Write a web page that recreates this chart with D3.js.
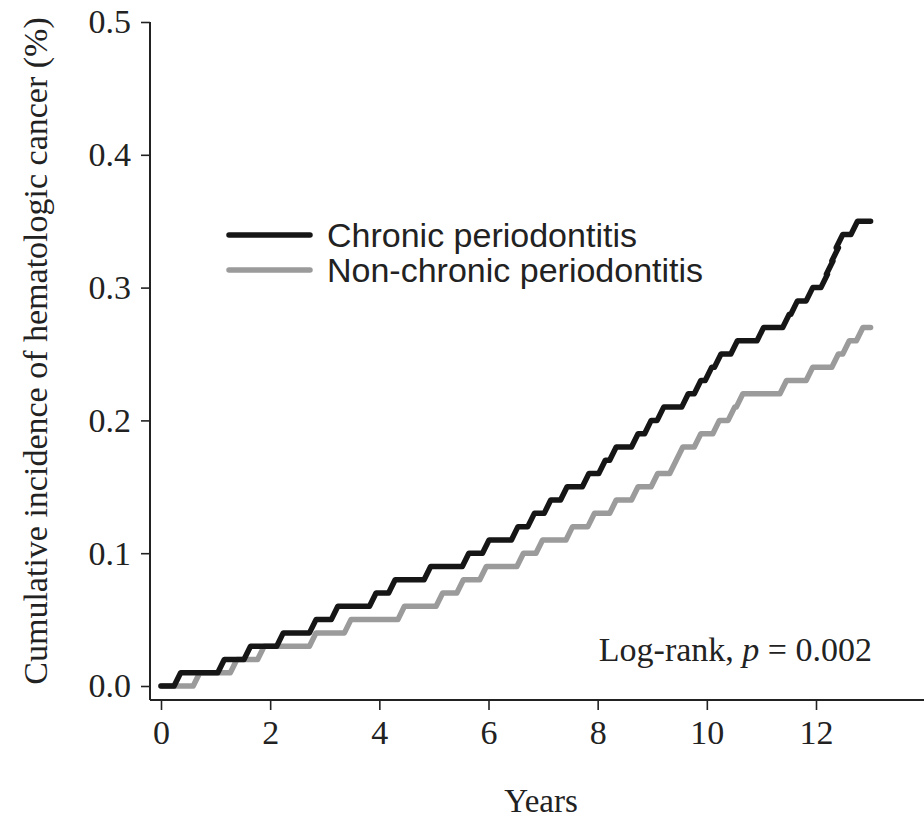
<!DOCTYPE html>
<html>
<head>
<meta charset="utf-8">
<script src="https://cdn.jsdelivr.net/npm/d3@7"></script>
<style>
  body { margin: 0; background: #fff; }
  svg { display: block; }
  .tick text { font-family: "Liberation Serif", "Times New Roman", serif; font-size: 34px; fill: #222; }
  .tick line { stroke: #222; stroke-width: 1.6; }
</style>
</head>
<body>
<div id="plot"></div>
<script>
// step times (years) and cumulative incidence (%)
var chronicTimes = [0, 0.3, 1.1, 1.58, 2.18, 2.78, 3.18, 3.88, 4.23, 4.88, 5.58, 5.95, 6.48, 6.78, 7.08, 7.38, 7.78, 8.08, 8.28, 8.68, 8.92, 9.15, 9.6, 9.83, 10.03, 10.2, 10.5, 10.98, 11.45, 11.6, 11.88, 12.15, 12.25, 12.35, 12.43, 12.7]
var chronicValues = [0, 0.01, 0.02, 0.03, 0.04, 0.05, 0.06, 0.07, 0.08, 0.09, 0.10, 0.11, 0.12, 0.13, 0.14, 0.15, 0.16, 0.17, 0.18, 0.19, 0.20, 0.21, 0.22, 0.23, 0.24, 0.25, 0.26, 0.27, 0.28, 0.29, 0.30, 0.31, 0.32, 0.33, 0.34, 0.35]
var nonChronicTimes = [0, 0.65, 1.33, 1.83, 2.78, 3.42, 4.4, 5.1, 5.48, 5.9, 6.58, 6.93, 7.48, 7.88, 8.28, 8.68, 9.04, 9.38, 9.5, 9.83, 10.17, 10.45, 10.6, 11.4, 11.88, 12.35, 12.55, 12.8]
var nonChronicValues = [0, 0.01, 0.02, 0.03, 0.04, 0.05, 0.06, 0.07, 0.08, 0.09, 0.10, 0.11, 0.12, 0.13, 0.14, 0.15, 0.16, 0.17, 0.18, 0.19, 0.20, 0.21, 0.22, 0.23, 0.24, 0.25, 0.26, 0.27]
var followUpEnd = 13
var xTicks = [0, 2, 4, 6, 8, 10, 12]
var yTicks = [0, 0.1, 0.2, 0.3, 0.4, 0.5]
var seriesNames = ["Chronic periodontitis", "Non-chronic periodontitis"]
var seriesColors = ["#161616", "#9b9b9b"]

var width = 924, height = 821

var svg = d3.select("#plot").append("svg")
	.attr("width", width)
	.attr("height", height)

var x = d3.scaleLinear().domain([0, 12]).range([161, 816])
var y = d3.scaleLinear().domain([0, 0.5]).range([686, 22])

// axes lines (L-shaped frame)
svg.append("line")
	.attr("x1", 150).attr("x2", 150)
	.attr("y1", y(0.5)).attr("y2", 700)
	.style("stroke", "#222").style("stroke-width", 2)
svg.append("line")
	.attr("x1", 150).attr("x2", width)
	.attr("y1", 700).attr("y2", 700)
	.style("stroke", "#222").style("stroke-width", 2)

var yAxis = svg.append("g")
	.attr("transform", "translate(150,0)")
	.call(d3.axisLeft(y).tickValues(yTicks).tickSize(9).tickPadding(10).tickFormat(d3.format(".1f")))
yAxis.select(".domain").remove()

var xAxis = svg.append("g")
	.attr("transform", "translate(0,700)")
	.call(d3.axisBottom(x).tickValues(xTicks).tickSize(10).tickPadding(10).tickFormat(d3.format("d")))
xAxis.select(".domain").remove()

// build step path with short slanted risers like the original
function stepPoints(times, values, end){
	var rise = 0.06
	var pts = [[times[0], values[0]]]
	for (var i = 1; i < times.length; i++){
		pts.push([times[i] - rise, values[i-1]])
		pts.push([times[i] + rise, values[i]])
	}
	pts.push([end, values[values.length-1]])
	return pts
}

var line = d3.line()
	.x(function(d){return x(d[0]);})
	.y(function(d){return y(d[1]);})

svg.append("path")
	.datum(stepPoints(nonChronicTimes, nonChronicValues, followUpEnd))
	.attr("d", line)
	.style("fill", "none")
	.style("stroke", seriesColors[1])
	.style("stroke-width", 5.5)
	.style("stroke-linejoin", "round")
	.style("stroke-linecap", "round")

svg.append("path")
	.datum(stepPoints(chronicTimes, chronicValues, followUpEnd))
	.attr("d", line)
	.style("fill", "none")
	.style("stroke", seriesColors[0])
	.style("stroke-width", 5.5)
	.style("stroke-linejoin", "round")
	.style("stroke-linecap", "round")

// legend
var legend = svg.selectAll(".legend").data(seriesNames).enter().append("g")
	.attr("class", "legend")
	.attr("transform", function(d, i){return "translate(0," + (235 + i * 35) + ")";})
legend.append("line")
	.attr("x1", 229).attr("x2", 310)
	.attr("y1", 0).attr("y2", 0)
	.style("stroke", function(d, i){return seriesColors[i];})
	.style("stroke-width", 5.5)
	.style("stroke-linecap", "round")
legend.append("text")
	.attr("x", 327).attr("y", 12)
	.style("font-family", "'Liberation Sans', Arial, sans-serif")
	.style("font-size", "34px")
	.style("fill", "#222")
	.text(function(d){return d;})

// annotation
var note = svg.append("text")
	.attr("x", 872).attr("y", 661)
	.attr("text-anchor", "end")
	.style("font-family", "'Liberation Serif', 'Times New Roman', serif")
	.style("font-size", "34px")
	.style("fill", "#222")
note.append("tspan").text("Log-rank, ")
note.append("tspan").style("font-style", "italic").text("p")
note.append("tspan").text(" = 0.002")

// axis titles
svg.append("text")
	.attr("x", 541).attr("y", 812)
	.attr("text-anchor", "middle")
	.style("font-family", "'Liberation Serif', 'Times New Roman', serif")
	.style("font-size", "33px")
	.style("fill", "#222")
	.text("Years")

svg.append("text")
	.attr("transform", "translate(47," + 351 + ") rotate(-90)")
	.attr("text-anchor", "middle")
	.style("font-family", "'Liberation Serif', 'Times New Roman', serif")
	.style("font-size", "34px")
	.style("fill", "#222")
	.text("Cumulative incidence of hematologic cancer (%)")
</script>
</body>
</html>
